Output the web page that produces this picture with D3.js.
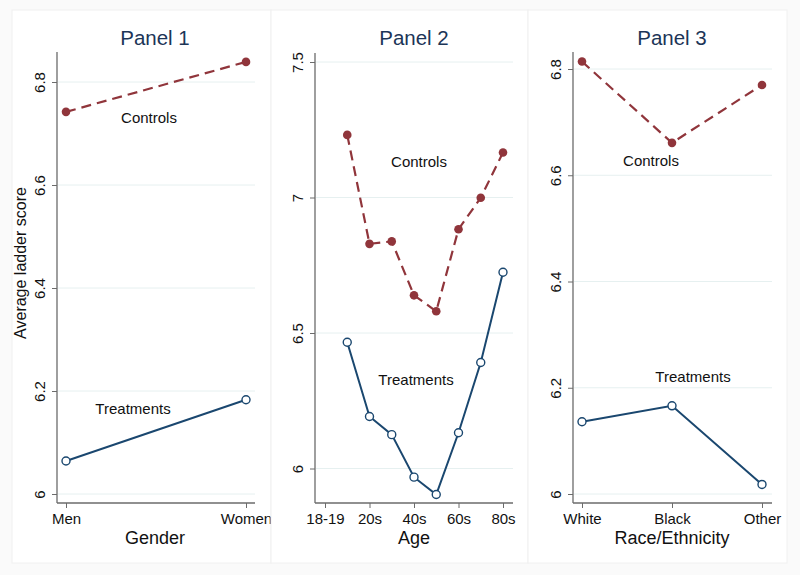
<!DOCTYPE html>
<html><head><meta charset="utf-8">
<script src="https://cdn.jsdelivr.net/npm/d3@7"></script>
<style>
html,body{margin:0;padding:0;background:#fafafa;}
svg{display:block;font-family:"Liberation Sans",Arial,Helvetica,sans-serif;}
</style></head>
<body>
<svg id="chart" width="800" height="575"></svg>
<script>
// ---------- data ----------
const genderCats = ["Men", "Women"];
const genderControls = [6.742, 6.839];
const genderTreatments = [6.064, 6.183];
const genderTicks = [6, 6.2, 6.4, 6.6, 6.8];

const ageX = [2, 3, 4, 5, 6, 7, 8, 9];
const ageControls = [7.231, 6.829, 6.838, 6.639, 6.580, 6.883, 6.999, 7.166];
const ageTreatments = [6.466, 6.192, 6.125, 5.968, 5.904, 6.132, 6.391, 6.724];
const ageTickVals = [1, 3, 5, 7, 9];
const ageTickLabels = ["18-19", "20s", "40s", "60s", "80s"];
const ageYTicks = [6, 6.5, 7, 7.5];

const raceCats = ["White", "Black", "Other"];
const raceControls = [6.814, 6.661, 6.770];
const raceTreatments = [6.136, 6.166, 6.018];
const raceTicks = [6, 6.2, 6.4, 6.6, 6.8];

const titles = ["Panel 1", "Panel 2", "Panel 3"];
const xTitles = ["Gender", "Age", "Race/Ethnicity"];
const yTitle = "Average ladder score";

// ---------- styles ----------
const MAROON = "#90353b", NAVY = "#1a476f", TITLE = "#1c3557", AXIS = "#6b6b6b", GRID = "#e6f0f0";
const svg = d3.select("#chart");

const panels = [
  {box:[12,10,259,553], ax:57, top:52, bottom:503, right:255,
   x: d3.scalePoint().domain(genderCats).range([66,246]),
   y: d3.scaleLinear().domain([6,6.8]).range([494,82]),
   yt: genderTicks, xs: genderCats, c: genderControls, t: genderTreatments,
   xt: genderCats, xl: genderCats,
   lc:[149,118], lt:[133,409]},
  {box:[271,10,257,553], ax:315, top:53, bottom:503, right:513,
   x: d3.scaleLinear().domain([1,9]).range([325,503]),
   y: d3.scaleLinear().domain([6,7.5]).range([468.5,62]),
   yt: ageYTicks, xs: ageX, c: ageControls, t: ageTreatments,
   xt: ageTickVals, xl: ageTickLabels,
   lc:[419,162], lt:[416,380]},
  {box:[528,10,259,553], ax:573, top:52, bottom:503, right:772,
   x: d3.scalePoint().domain(raceCats).range([582,762]),
   y: d3.scaleLinear().domain([6,6.8]).range([494,69]),
   yt: raceTicks, xs: raceCats, c: raceControls, t: raceTreatments,
   xt: raceCats, xl: raceCats,
   lc:[651,161], lt:[693,377]}
];

panels.forEach((p, i) => {
  const g = svg.append("g");
  g.append("rect").attr("x",p.box[0]).attr("y",p.box[1]).attr("width",p.box[2]).attr("height",p.box[3])
    .attr("fill","#ffffff").attr("stroke","#f0f0f0").attr("stroke-width",1);

  // grid
  g.selectAll(".grid").data(p.yt).enter().append("line")
    .attr("x1",p.ax+1).attr("x2",p.right).attr("y1",d=>p.y(d)).attr("y2",d=>p.y(d))
    .attr("stroke",GRID).attr("stroke-width",1);

  // y axis
  const ya = d3.axisLeft(p.y).tickValues(p.yt).tickSize(5).tickFormat(d3.format("~g"));
  const yg = g.append("g").attr("transform",`translate(${p.ax},0)`).call(ya);
  yg.select(".domain").remove();
  yg.selectAll(".tick line").attr("stroke",AXIS);
  yg.selectAll(".tick text").attr("font-size",15).attr("fill","#111")
    .attr("x",null).attr("dy",null).attr("text-anchor","middle")
    .attr("transform","translate(-17,0) rotate(-90)").attr("dy","0.35em");
  g.append("line").attr("x1",p.ax).attr("x2",p.ax).attr("y1",p.top).attr("y2",p.bottom)
    .attr("stroke",AXIS).attr("stroke-width",1.3);

  // x axis
  const xa = d3.axisBottom(p.x).tickValues(p.xt).tickSize(5)
    .tickFormat((d,j)=>p.xl[j]);
  const xg = g.append("g").attr("transform",`translate(0,${p.bottom})`).call(xa);
  xg.select(".domain").remove();
  xg.selectAll(".tick line").attr("stroke",AXIS);
  xg.selectAll(".tick text").attr("font-size",15).attr("fill","#111").attr("y",10).attr("dy","0.71em");
  g.append("line").attr("x1",p.ax).attr("x2",p.right).attr("y1",p.bottom).attr("y2",p.bottom)
    .attr("stroke",AXIS).attr("stroke-width",1.3);

  // lines
  const line = d3.line().x((d,j)=>p.x(p.xs[j])).y(d=>p.y(d));
  g.append("path").datum(p.c).attr("d",line).attr("fill","none").attr("stroke",MAROON)
    .attr("stroke-width",2.2).attr("stroke-dasharray","10,6");
  g.append("path").datum(p.t).attr("d",line).attr("fill","none").attr("stroke",NAVY)
    .attr("stroke-width",2);
  g.selectAll(".mc").data(p.c).enter().append("circle")
    .attr("cx",(d,j)=>p.x(p.xs[j])).attr("cy",d=>p.y(d)).attr("r",4.3).attr("fill",MAROON);
  g.selectAll(".mt").data(p.t).enter().append("circle")
    .attr("cx",(d,j)=>p.x(p.xs[j])).attr("cy",d=>p.y(d)).attr("r",4)
    .attr("fill","#fff").attr("stroke",NAVY).attr("stroke-width",1.4);

  // labels
  g.append("text").attr("x",p.lc[0]).attr("y",p.lc[1]).attr("dy","0.35em").attr("text-anchor","middle")
    .attr("font-size",15).attr("fill","#111").text("Controls");
  g.append("text").attr("x",p.lt[0]).attr("y",p.lt[1]).attr("dy","0.35em").attr("text-anchor","middle")
    .attr("font-size",15).attr("fill","#111").text("Treatments");

  // titles
  g.append("text").attr("x",[155,414,672][i]).attr("y",38).attr("dy","0.35em").attr("text-anchor","middle")
    .attr("font-size",20.5).attr("fill",TITLE).text(titles[i]);
  g.append("text").attr("x",[155,414,672][i]).attr("y",538).attr("dy","0.35em").attr("text-anchor","middle")
    .attr("font-size",18).attr("fill","#111").text(xTitles[i]);
});

svg.append("text").attr("transform","translate(20,263) rotate(-90)").attr("dy","0.35em")
  .attr("text-anchor","middle").attr("font-size",16).attr("fill","#111").text(yTitle);
</script>
</body></html>
